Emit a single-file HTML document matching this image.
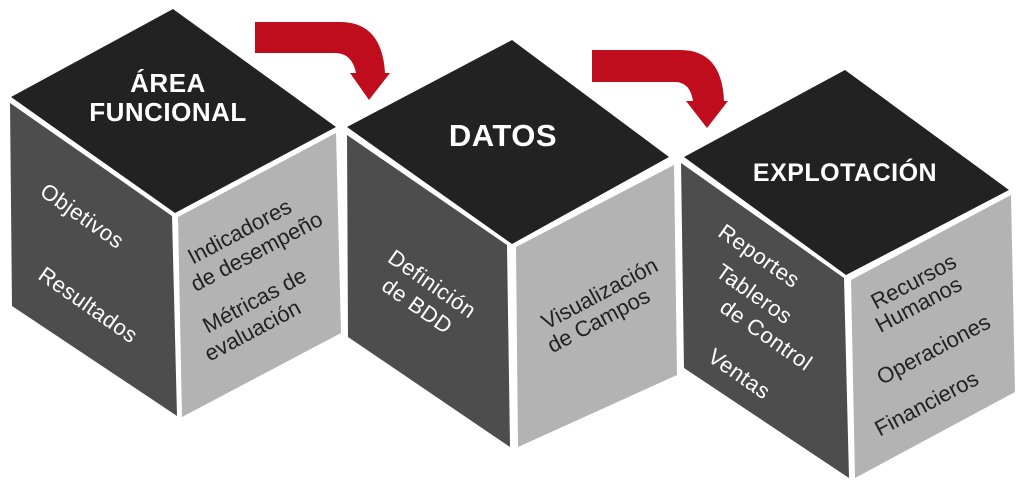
<!DOCTYPE html>
<html><head><meta charset="utf-8"><style>
html,body{margin:0;padding:0;background:#fff;}
svg{display:block}
text{font-family:"Liberation Sans",sans-serif;}
.w{fill:#fff;font-size:22px;letter-spacing:0.5px;}
.k{fill:#222;font-size:22px;}
.h{fill:#fff;font-weight:bold;letter-spacing:0.5px;}
</style></head><body>
<svg width="1024" height="489" viewBox="0 0 1024 489">
<polygon points="173,9 336,127 175,213 11,97" fill="#222"/>
<polygon points="10,103 172,216 177,416 12,306" fill="#4d4d4d"/>
<polygon points="178,217 336,133 341,333 182,417" fill="#b3b3b3"/>
<polygon points="512,40 669,157 512,244 347,127" fill="#222"/>
<polygon points="347,135 507,245 510,447 348,337" fill="#4d4d4d"/>
<polygon points="516,247 674,165 677,375 518,447" fill="#b3b3b3"/>
<polygon points="845,70 1009,190 846,275 684,157" fill="#222"/>
<polygon points="681,163 844,278 849,478 684,368" fill="#4d4d4d"/>
<polygon points="851,280 1011,195 1015,392 855,478" fill="#b3b3b3"/>
<path d="M255,22 L340,22 Q382,22 385,73 L390,73 L369,100 L350,73 L356,73 Q352,53 335,53 L255,53 Z" fill="#c00d1e"/>
<path d="M592,50 L680,50 Q722,50 724,101 L728,101 L707,128 L686,101 L693,101 Q690,82 675,82 L592,82 Z" fill="#c00d1e"/>
<text class="h" x="168" y="92" font-size="26" text-anchor="middle">ÁREA</text>
<text class="h" x="168" y="121" font-size="26" text-anchor="middle">FUNCIONAL</text>
<text class="h" x="503" y="146" font-size="31" text-anchor="middle">DATOS</text>
<text class="h" x="845" y="181" font-size="25" text-anchor="middle">EXPLOTACIÓN</text>
<text class="w" transform="translate(78,222) rotate(35)" text-anchor="middle">Objetivos</text>
<text class="w" transform="translate(84,311) rotate(35)" text-anchor="middle">Resultados</text>
<text class="k" transform="translate(243,238) rotate(-28)" text-anchor="middle">Indicadores</text>
<text class="k" transform="translate(260,258) rotate(-28)" text-anchor="middle">de desempeño</text>
<text class="k" transform="translate(258,307) rotate(-28)" text-anchor="middle">Métricas de</text>
<text class="k" transform="translate(256,337) rotate(-28)" text-anchor="middle">evaluación</text>
<text class="w" transform="translate(428,290) rotate(35)" text-anchor="middle">Definición</text>
<text class="w" transform="translate(413,312) rotate(35)" text-anchor="middle">de BDD</text>
<text class="k" transform="translate(603,300) rotate(-28)" text-anchor="middle">Visualización</text>
<text class="k" transform="translate(602,327) rotate(-28)" text-anchor="middle">de Campos</text>
<text class="w" transform="translate(755,262) rotate(35)" text-anchor="middle">Reportes</text>
<text class="w" transform="translate(750,300) rotate(35)" text-anchor="middle">Tableros</text>
<text class="w" transform="translate(762,341) rotate(35)" text-anchor="middle">de Control</text>
<text class="w" transform="translate(735,380) rotate(35)" text-anchor="middle">Ventas</text>
<text class="k" transform="translate(917,288) rotate(-28)" text-anchor="middle">Recursos</text>
<text class="k" transform="translate(922,311) rotate(-28)" text-anchor="middle">Humanos</text>
<text class="k" transform="translate(937,356) rotate(-28)" text-anchor="middle">Operaciones</text>
<text class="k" transform="translate(930,410) rotate(-28)" text-anchor="middle">Financieros</text>
</svg>
</body></html>
